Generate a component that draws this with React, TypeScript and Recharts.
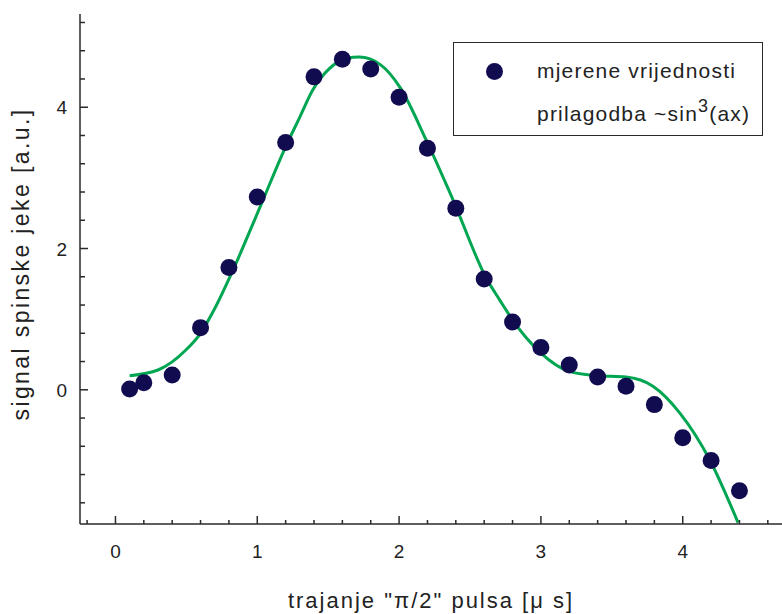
import {
  ComposedChart,
  Scatter,
  Line,
  XAxis,
  YAxis,
  Legend,
} from "recharts";

// measured points
const measuredX = [0.1, 0.2, 0.4, 0.6, 0.8, 1.0, 1.2, 1.4, 1.6, 1.8, 2.0, 2.2, 2.4, 2.6, 2.8, 3.0, 3.2, 3.4, 3.6, 3.8, 4.0, 4.2, 4.4];
const measuredY = [0.01, 0.1, 0.21, 0.88, 1.73, 2.73, 3.5, 4.43, 4.68, 4.54, 4.14, 3.42, 2.57, 1.57, 0.96, 0.6, 0.35, 0.18, 0.05, -0.21, -0.68, -1.0, -1.43];

// fitted curve
const fitX = [0.1, 0.3, 0.5, 0.6, 0.7, 0.83, 1.02, 1.2, 1.3, 1.39, 1.51, 1.63, 1.72, 1.87, 2.01, 2.19, 2.38, 2.62, 2.71, 2.8, 3.0, 3.2, 3.39, 3.6, 3.79, 3.98, 4.19, 4.39];
const fitY = [0.2, 0.28, 0.57, 0.8, 1.15, 1.7, 2.59, 3.44, 3.86, 4.24, 4.55, 4.69, 4.71, 4.6, 4.27, 3.54, 2.69, 1.56, 1.27, 0.99, 0.52, 0.26, 0.2, 0.18, 0.05, -0.33, -0.99, -1.88];

const xTicks = [-0.2, 0, 0.2, 0.4, 0.6, 0.8, 1, 1.2, 1.4, 1.6, 1.8, 2, 2.2, 2.4, 2.6, 2.8, 3, 3.2, 3.4, 3.6, 3.8, 4, 4.2, 4.4, 4.6];
const xMajor = [0, 1, 2, 3, 4];
const yTicks = [-1.6, -1.2, -0.8, -0.4, 0, 0.4, 0.8, 1.2, 1.6, 2, 2.4, 2.8, 3.2, 3.6, 4, 4.4, 4.8, 5.2];
const yMajor = [0, 2, 4];

const measured = measuredX.map((x, i) => ({ x, y: measuredY[i] }));
const fit = fitX.map((x, i) => ({ x, y: fitY[i] }));

const AXIS = "#2a2a2a";
const DOT = "#110c50";
const GREEN = "#00a651";
const FONT = "'Liberation Sans', Arial, sans-serif";

const BottomTick = ({ x, y, payload }: any) => {
  const major = xMajor.includes(payload.value);
  return (
    <g>
      <line x1={x} x2={x} y1={y} y2={y - (major ? 8 : 4)} stroke={AXIS} strokeWidth={1.5} />
      {major && (
        <text x={x} y={y + 34} textAnchor="middle" fontSize={19} fill="#222" fontFamily={FONT}>
          {payload.value}
        </text>
      )}
    </g>
  );
};

const TopTick = ({ x, y, payload }: any) => {
  const major = xMajor.includes(payload.value);
  return <line x1={x} x2={x} y1={y} y2={y + (major ? 8 : 4)} stroke={AXIS} strokeWidth={1.5} />;
};

const LeftTick = ({ x, y, payload }: any) => {
  const major = yMajor.includes(payload.value);
  return (
    <g>
      <line x1={x} x2={x + (major ? 8 : 5)} y1={y} y2={y} stroke={AXIS} strokeWidth={1.5} />
      {major && (
        <text x={x - 13} y={y + 7} textAnchor="end" fontSize={19} fill="#222" fontFamily={FONT}>
          {payload.value}
        </text>
      )}
    </g>
  );
};

const xTitle = ({ viewBox }: any) => (
  <text
    x={viewBox.x + viewBox.width / 2}
    y={viewBox.y + viewBox.height - 6}
    textAnchor="middle"
    fontSize={22}
    letterSpacing={2}
    fill="#222"
    fontFamily={FONT}
  >
    trajanje "π/2" pulsa [μ s]
  </text>
);

const yTitle = ({ viewBox }: any) => {
  const cx = viewBox.x + 29;
  const cy = viewBox.y + viewBox.height / 2 - 5;
  return (
    <text
      x={cx}
      y={cy}
      transform={`rotate(-90, ${cx}, ${cy})`}
      textAnchor="middle"
      fontSize={23}
      letterSpacing={2.4}
      fill="#222"
      fontFamily={FONT}
    >
      signal spinske jeke [a.u.]
    </text>
  );
};

const LegendBox = () => (
  <div
    style={{
      position: "relative",
      width: 310,
      height: 94,
      border: `1.5px solid ${AXIS}`,
      background: "#fff",
      fontFamily: FONT,
      fontSize: 21,
      letterSpacing: 1.2,
      color: "#222",
      boxSizing: "border-box",
    }}
  >
    <span
      style={{
        position: "absolute",
        left: 32,
        top: 20,
        width: 17,
        height: 17,
        borderRadius: "50%",
        background: DOT,
      }}
    />
    <span style={{ position: "absolute", left: 83, top: 16, whiteSpace: "nowrap", lineHeight: "24px" }}>
      mjerene vrijednosti
    </span>
    <span style={{ position: "absolute", left: 83, top: 59, whiteSpace: "nowrap", lineHeight: "24px" }}>
      prilagodba ~sin<sup style={{ fontSize: 18, verticalAlign: "9px", lineHeight: 0 }}>3</sup>(ax)
    </span>
  </div>
);

export default function App() {
  return (
    <div style={{ position: "absolute", left: 0, top: 0, background: "#fff" }}>
      <ComposedChart width={782} height={614} margin={{ top: 14, right: 0, bottom: 0, left: 0 }}>
        <XAxis
          xAxisId={0}
          type="number"
          dataKey="x"
          domain={[-0.25, 4.7]}
          allowDataOverflow
          ticks={xTicks}
          interval={0}
          height={90}
          tickLine={false}
          tickSize={0}
          tickMargin={0}
          axisLine={{ stroke: AXIS, strokeWidth: 1.5 }}
          tick={<BottomTick />}
          label={xTitle}
        />
        <XAxis
          xAxisId="top"
          orientation="top"
          type="number"
          domain={[-0.25, 4.7]}
          allowDataOverflow
          ticks={xTicks}
          interval={0}
          height={0}
          tickLine={false}
          tickSize={0}
          tickMargin={0}
          axisLine={{ stroke: AXIS, strokeWidth: 1.5 }}
          tick={<TopTick />}
        />
        <YAxis
          type="number"
          dataKey="y"
          domain={[-1.9, 5.32]}
          allowDataOverflow
          ticks={yTicks}
          interval={0}
          width={80}
          tickLine={false}
          tickSize={0}
          tickMargin={0}
          axisLine={{ stroke: AXIS, strokeWidth: 1.5 }}
          tick={<LeftTick />}
          label={yTitle}
        />
        <Legend
          layout="vertical"
          align="center"
          verticalAlign="middle"
          content={<LegendBox />}
          wrapperStyle={{ left: 453, top: 42, width: 312, height: 96 }}
        />
        <Scatter
          name="mjerene vrijednosti"
          data={measured}
          fill={DOT}
          isAnimationActive={false}
          shape={(p: any) => <circle cx={p.cx} cy={p.cy} r={8.5} fill={DOT} />}
        />
        <Line
          name="prilagodba"
          data={fit}
          dataKey="y"
          type="monotone"
          stroke={GREEN}
          strokeWidth={3}
          dot={false}
          activeDot={false}
          isAnimationActive={false}
        />
      </ComposedChart>
    </div>
  );
}
